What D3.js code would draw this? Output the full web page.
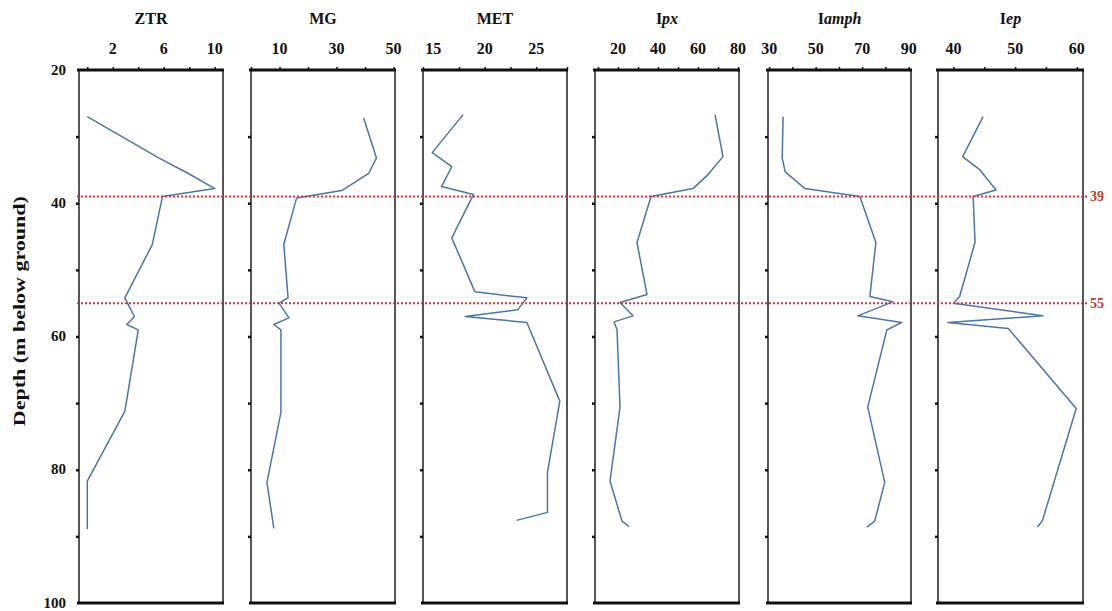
<!DOCTYPE html>
<html>
<head>
<meta charset="utf-8">
<script src="https://cdn.jsdelivr.net/npm/d3@7"></script>
<style>
  body { margin: 0; background: #fff; }
  text { font-family: "Liberation Serif", "Times New Roman", serif; font-weight: bold; }
</style>
</head>
<body>
<svg id="chart" width="1112" height="611"></svg>
<script>
// Depth (m below ground) and values for each column.
const ztrDepth = [27, 33.2, 35.5, 37.8, 39, 46.2, 54.2, 57, 58.2, 59, 71.2, 81.7, 88.9];
const ztrValues = [0, 5.6, 7.9, 10, 5.9, 5.1, 2.95, 3.7, 3.1, 4.0, 2.95, 0, 0];

const mgDepth = [27.2, 33.2, 35.5, 38.1, 39.2, 46.2, 54.2, 55, 57.2, 58.2, 59, 71.4, 81.9, 88.8];
const mgValues = [39.5, 44, 41.3, 31.8, 16, 11.5, 13, 9.8, 13.3, 8, 10.5, 10.5, 5.6, 8];

const metDepth = [26.7, 32.4, 34.5, 37.5, 38.7, 45.2, 53.3, 54.2, 56, 57, 57.9, 69.7, 80.4, 86.4, 87.6];
const metValues = [17.9, 14.9, 16.8, 15.8, 18.9, 16.8, 19.05, 24.1, 23.2, 18.1, 24.1, 27.3, 26.1, 26.1, 23.1];

const ipxDepth = [26.7, 33, 35.7, 37.8, 39, 45.9, 53.7, 54.9, 56.9, 57.8, 59, 70.6, 81.7, 87.7, 88.5];
const ipxValues = [68.5, 72.5, 65, 57.5, 36.5, 29.5, 34.5, 21, 27.5, 18, 19.5, 21, 16, 22, 25.5];

const amphDepth = [27, 33.2, 35.3, 37.8, 39, 45.9, 54, 54.8, 56.9, 57.9, 59, 70.6, 81.9, 87.7, 88.6];
const amphValues = [36, 35.6, 36.9, 45.4, 69, 75.9, 73.3, 83.1, 68.1, 87, 80.6, 72.4, 79.7, 75.4, 72];

const epDepth = [27, 33, 35, 38, 39, 45.9, 54, 55, 56.9, 57.9, 58.8, 70.8, 87.7, 88.6];
const epValues = [44.8, 41.5, 44.3, 46.9, 43.2, 43.5, 41, 40, 54.5, 39.1, 48.9, 59.9, 54.4, 53.6];

const depthLabels = [20, 40, 60, 80, 100];
const depthTicks = [30, 40, 50, 60, 70, 80, 90];
const markerDepths = [39, 55];

const panels = [
  {title: ['ZTR', ''], depth: ztrDepth, values: ztrValues, domain: [-0.65, 10.65],
   ticks: [0, 2, 4, 6, 8, 10], labels: [2, 6, 10], left: 79, right: 223},
  {title: ['MG', ''], depth: mgDepth, values: mgValues, domain: [0, 50.5],
   ticks: [0, 10, 20, 30, 40, 50], labels: [10, 30, 50], left: 251, right: 395},
  {title: ['MET', ''], depth: metDepth, values: metValues, domain: [14, 28],
   ticks: [14, 17.5, 20, 22.5, 25, 28], labels: [15, 20, 25], left: 423, right: 567},
  {title: ['I', 'px'], depth: ipxDepth, values: ipxValues, domain: [8.5, 80.5],
   ticks: [10, 20, 30, 40, 50, 60, 70, 80], labels: [20, 40, 60, 80], left: 595, right: 739},
  {title: ['I', 'amph'], depth: amphDepth, values: amphValues, domain: [29.5, 91],
   ticks: [30, 40, 50, 60, 70, 80, 90], labels: [30, 50, 70, 90], left: 768, right: 911},
  {title: ['I', 'ep'], depth: epDepth, values: epValues, domain: [37.5, 61],
   ticks: [40, 45, 50, 55, 60], labels: [40, 50, 60], left: 938, right: 1083}
];

const svg = d3.select('#chart');
const y = d3.scaleLinear().domain([20, 100]).range([70, 603]);

panels.forEach(p => {
  const x = d3.scaleLinear().domain(p.domain).range([p.left, p.right]);
  const g = svg.append('g');

  // frame: grey sides, heavy black top/bottom
  g.append('line').attr('x1', p.left).attr('x2', p.left).attr('y1', y(20)).attr('y2', y(100))
      .attr('stroke', '#555').attr('stroke-width', 2);
  g.append('line').attr('x1', p.right).attr('x2', p.right).attr('y1', y(20)).attr('y2', y(100))
      .attr('stroke', '#555').attr('stroke-width', 2);
  g.append('line').attr('x1', p.left - 2).attr('x2', p.right + 1).attr('y1', y(100)).attr('y2', y(100))
      .attr('stroke', '#111').attr('stroke-width', 3);

  // top value axis
  const top = g.append('g').attr('transform', `translate(0,${y(20)})`)
      .call(d3.axisTop(x).tickValues(p.ticks).tickSize(3).tickSizeOuter(0).tickFormat(''));
  top.select('.domain').remove();
  top.selectAll('.tick line').attr('stroke', '#111').attr('stroke-width', 1.5);
  g.append('line').attr('x1', p.left - 2).attr('x2', p.right + 1).attr('y1', y(20)).attr('y2', y(20))
      .attr('stroke', '#111').attr('stroke-width', 3);

  g.selectAll('text.vlab').data(p.labels).join('text')
      .attr('class', 'vlab')
      .attr('x', d => x(d)).attr('y', 54)
      .attr('text-anchor', 'middle').attr('font-size', 16).attr('fill', '#111')
      .text(d => d);

  // left depth tick dots
  const left = g.append('g').attr('transform', `translate(${p.left},0)`)
      .call(d3.axisLeft(y).tickValues(depthTicks).tickSize(3).tickSizeOuter(0).tickFormat(''));
  left.select('.domain').remove();
  left.selectAll('.tick line').attr('stroke', '#111').attr('stroke-width', 2.5);

  // title
  const t = g.append('text').attr('x', (p.left + p.right) / 2).attr('y', 24)
      .attr('text-anchor', 'middle').attr('font-size', 16).attr('fill', '#111');
  t.append('tspan').text(p.title[0]);
  if (p.title[1]) t.append('tspan').attr('font-style', 'italic').text(p.title[1]);
});

// data lines drawn after frames
panels.forEach(p => {
  const x = d3.scaleLinear().domain(p.domain).range([p.left, p.right]);
  const pts = p.depth.map((d, k) => [d, p.values[k]]);
  svg.append('path').datum(pts)
      .attr('fill', 'none').attr('stroke', '#4a76ad').attr('stroke-width', 1.5)
      .attr('stroke-linejoin', 'round')
      .attr('d', d3.line().x(d => x(d[1])).y(d => y(d[0])));
});

// depth labels on first column
svg.selectAll('text.dlab').data(depthLabels).join('text')
    .attr('class', 'dlab')
    .attr('x', 66).attr('y', d => y(d)).attr('dy', '0.3em')
    .attr('text-anchor', 'end').attr('font-size', 15).attr('fill', '#111')
    .text(d => d);

svg.append('text')
    .attr('transform', `translate(25,${y(56.2)}) rotate(-90)`)
    .attr('text-anchor', 'middle').attr('font-size', 17).attr('fill', '#111')
    .attr('textLength', 230).attr('lengthAdjust', 'spacingAndGlyphs')
    .text('Depth (m below ground)');

// marker depths
const firstLeft = panels[0].left, lastRight = panels[panels.length - 1].right;
svg.selectAll('line.marker').data(markerDepths).join('line')
    .attr('class', 'marker')
    .attr('x1', firstLeft - 2).attr('x2', lastRight + 4)
    .attr('y1', d => y(d)).attr('y2', d => y(d))
    .attr('stroke', '#d03a3a').attr('stroke-width', 2).attr('stroke-dasharray', '2,2');
svg.selectAll('text.mlab').data(markerDepths).join('text')
    .attr('class', 'mlab')
    .attr('x', lastRight + 7).attr('y', d => y(d)).attr('dy', '0.35em')
    .attr('font-size', 14).attr('font-weight', 'normal').attr('fill', '#c0392b')
    .text(d => d);
</script>
</body>
</html>
